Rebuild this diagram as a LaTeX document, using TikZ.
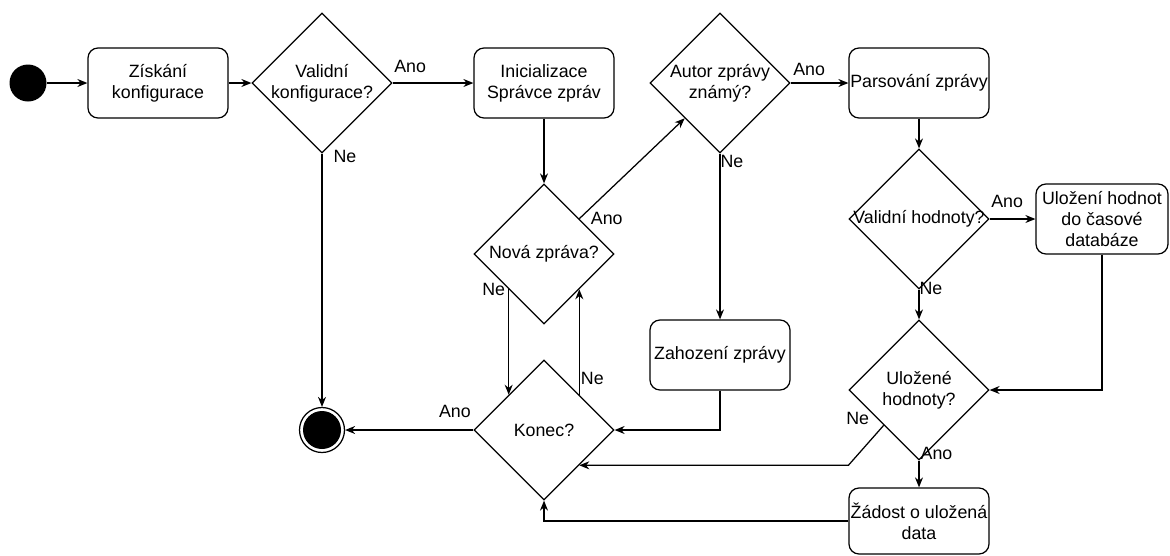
\documentclass[tikz,border=0pt]{standalone}
\usepackage{fontspec}
\setmainfont{Liberation Sans}
\usetikzlibrary{shapes.geometric,arrows.meta}

\begin{document}
\begin{tikzpicture}[x=1pt,y=-1pt,line width=1.25pt,
    every node/.style={font=\fontsize{17.8}{21}\selectfont},
    akce/.style={draw,rounded corners=10pt,minimum width=140pt,minimum height=70pt,align=center,inner sep=1pt},
    otazka/.style={draw,diamond,minimum width=140pt,minimum height=140pt,inner sep=0pt},
    sip/.style={-{Stealth[length=10pt,width=8pt]}},
    popis/.style={inner sep=0pt,pos=0}]
      \path[use as bounding box] (0,0) rectangle (1170,555); % whole page

      \node[circle,fill,minimum size=37pt,inner sep=0pt] (start) at (28,83) {};
      \node[akce] (cfg) at (158,83) {Získání\\konfigurace};
      \node[otazka,label={[align=center]center:Validní\\konfigurace?}] (cfgok) at (322,83) {};
      \node[akce] (init) at (544,83) {Inicializace\\Správce zpráv};
      \node[otazka,label={[align=center]center:Autor zprávy\\známý?}] (autor) at (720,83) {};
      \node[akce] (parse) at (919,83) {Parsování zprávy};
      \node[otazka,label=center:Nová zpráva?] (nova) at (544,254) {};
      \node[otazka,label=center:Konec?] (konec) at (544,430) {};
      \node[akce] (zahod) at (720,355) {Zahození zprávy};
      \node[otazka,label=center:Validní hodnoty?] (hodok) at (919,219) {};
      \node[akce,minimum width=132pt] (ulozeni) at (1102,219) {Uložení hodnot\\do časové\\databáze};
      \node[otazka,label={[align=center]center:Uložené\\hodnoty?}] (ulozene) at (919,390) {};
      \node[akce,minimum height=66pt] (zadost) at (919,521) {Žádost o uložená\\data};
      \node[circle,draw,minimum size=45pt,inner sep=0pt] (end) at (322,430) {};
      \fill (end.center) circle (19pt);

      \draw[sip] (start) -- (cfg);
      \draw[sip] (cfg) -- (cfgok);
      \draw[sip] (cfgok) -- node[popis,anchor=south west,xshift=1pt,yshift=10pt] {Ano} (init);
      \draw[sip] (cfgok.south) -- node[popis,anchor=north west,xshift=11pt,yshift=4pt] {Ne} (end);
      \draw[sip] (init) -- (nova);
      \draw[sip] (nova.north east) -- node[popis,anchor=west,xshift=11pt] {Ano} (autor.south west);
      \draw[sip] (nova.south west) -- node[popis,anchor=east,xshift=-3pt] {Ne} (konec.north west);
      \draw[sip] (konec.north east) -- node[popis,anchor=south west,xshift=1pt,yshift=9pt] {Ne} (nova.south east);
      \draw[sip] (konec) -- node[popis,anchor=south east,xshift=-2pt,yshift=12pt] {Ano} (end);
      \draw[sip] (autor) -- node[popis,anchor=north west,yshift=-1pt] {Ne} (zahod);
      \draw[sip] (zahod.south) |- (konec.east);
      \draw[sip] (autor) -- node[popis,anchor=south west,xshift=2pt,yshift=7pt] {Ano} (parse);
      \draw[sip] (parse) -- (hodok);
      \draw[sip] (hodok) -- node[popis,anchor=south west,xshift=1pt,yshift=11pt] {Ano} (ulozeni);
      \draw[sip] (hodok) -- node[popis,anchor=west,yshift=1pt] {Ne} (ulozene);
      \draw[sip] (ulozeni.south) |- (ulozene.east);
      \draw[sip] (ulozene.south west) -- node[popis,anchor=south east,xshift=-14pt] {Ne} (ulozene.west |- konec.south east) -- (konec.south east);
      \draw[sip] (ulozene) -- node[popis,anchor=south west,xshift=1pt] {Ano} (zadost);
      \draw[sip] (zadost.west) -| (konec.south);
\end{tikzpicture}
\end{document}
